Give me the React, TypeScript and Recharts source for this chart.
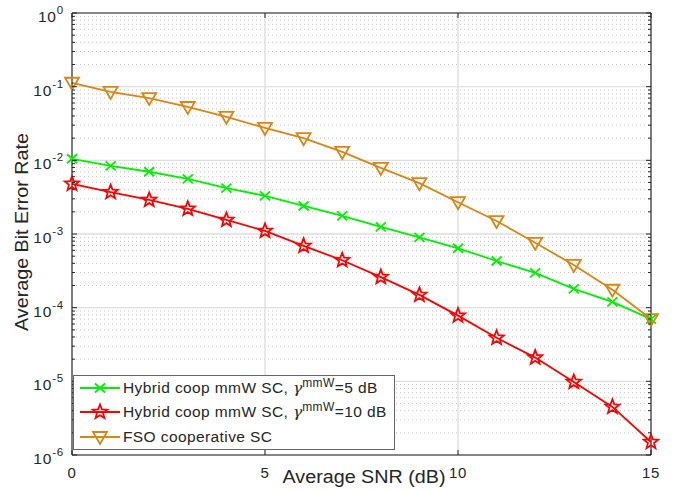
import React from "react";
import {
  LineChart,
  Line,
  XAxis,
  YAxis,
  CartesianGrid,
  Legend,
  ReferenceLine,
} from "recharts";

// average SNR in dB
const snrDb = [0, 1, 2, 3, 4, 5, 6, 7, 8, 9, 10, 11, 12, 13, 14, 15];

// BER
const berHybrid5 = [
  1.05e-2, 8.4e-3, 7.0e-3, 5.6e-3, 4.2e-3, 3.3e-3, 2.4e-3, 1.76e-3, 1.25e-3,
  9.0e-4, 6.4e-4, 4.3e-4, 2.97e-4, 1.8e-4, 1.2e-4, 7.0e-5,
];
const berHybrid10 = [
  4.8e-3, 3.7e-3, 2.9e-3, 2.2e-3, 1.55e-3, 1.1e-3, 6.9e-4, 4.4e-4, 2.6e-4,
  1.49e-4, 7.8e-5, 3.9e-5, 2.1e-5, 9.8e-6, 4.5e-6, 1.5e-6,
];
const berFso = [
  0.113, 0.085, 0.07, 0.053, 0.039, 0.0275, 0.02, 0.013, 7.9e-3, 4.9e-3,
  2.7e-3, 1.5e-3, 7.6e-4, 3.8e-4, 1.75e-4, 7.0e-5,
];

const xTicks = [0, 5, 10, 15];
const xMajorGrid = [5, 10];
const yMajor = [1e-6, 1e-5, 1e-4, 1e-3, 1e-2, 1e-1, 1];
const yMinor = [
  2e-6, 3e-6, 4e-6, 5e-6, 6e-6, 7e-6, 8e-6, 9e-6,
  2e-5, 3e-5, 4e-5, 5e-5, 6e-5, 7e-5, 8e-5, 9e-5,
  2e-4, 3e-4, 4e-4, 5e-4, 6e-4, 7e-4, 8e-4, 9e-4,
  2e-3, 3e-3, 4e-3, 5e-3, 6e-3, 7e-3, 8e-3, 9e-3,
  2e-2, 3e-2, 4e-2, 5e-2, 6e-2, 7e-2, 8e-2, 9e-2,
  0.2, 0.3, 0.4, 0.5, 0.6, 0.7, 0.8, 0.9,
];

const data = snrDb.map((snr, i) => ({
  snr,
  hybrid5: berHybrid5[i],
  hybrid10: berHybrid10[i],
  fso: berFso[i],
}));

const W = 674;
const H = 490;
const PL = 72;
const PT = 13;
const PR = 651;
const PB = 455;

const FONT = "'Liberation Sans', Arial, Helvetica, sans-serif";
const AXIS = "#262626";
const GREEN = "#00f000";
const RED = "#ff0000";
const ORANGE = "#dc8512";

function CrossMark({ cx, cy, color }: any) {
  if (cx == null || cy == null) return null;
  return (
    <path
      d={`M${cx - 5},${cy - 4.5}L${cx + 5},${cy + 4.5}M${cx - 5},${cy + 4.5}L${cx + 5},${cy - 4.5}`}
      stroke={color}
      strokeWidth={1.8}
      fill="none"
    />
  );
}

function StarMark({ cx, cy, color }: any) {
  if (cx == null || cy == null) return null;
  const pts: string[] = [];
  for (let k = 0; k < 10; k++) {
    const r = k % 2 === 0 ? 7.5 : 3.2;
    const a = -Math.PI / 2 + (k * Math.PI) / 5;
    pts.push(`${cx + r * Math.cos(a)},${cy + r * Math.sin(a)}`);
  }
  return (
    <polygon
      points={pts.join(" ")}
      stroke={color}
      strokeWidth={1.8}
      fill="none"
      strokeLinejoin="miter"
    />
  );
}

function TriMark({ cx, cy, color }: any) {
  if (cx == null || cy == null) return null;
  return (
    <path
      d={`M${cx - 7},${cy - 5}L${cx + 7},${cy - 5}L${cx},${cy + 7}Z`}
      stroke={color}
      strokeWidth={1.8}
      fill="none"
    />
  );
}

const series = [
  { key: "hybrid5", color: GREEN, Mark: CrossMark, label: "Hybrid coop mmW SC, ", tail: "=5 dB", gamma: true },
  { key: "hybrid10", color: RED, Mark: StarMark, label: "Hybrid coop mmW SC, ", tail: "=10 dB", gamma: true },
  { key: "fso", color: ORANGE, Mark: TriMark, label: "FSO cooperative SC", tail: "", gamma: false },
];

function XTick({ x, payload }: any) {
  return (
    <g>
      <line x1={x} x2={x} y1={PB} y2={PB - 5} stroke={AXIS} />
      <line x1={x} x2={x} y1={PT} y2={PT + 5} stroke={AXIS} />
      <text
        x={x}
        y={PB + 23}
        textAnchor="middle"
        fontSize={15}
        fontFamily={FONT}
        fill={AXIS}
        letterSpacing={0.6}
      >
        {payload.value}
      </text>
    </g>
  );
}

function YTick({ y, payload }: any) {
  const v = payload.value;
  const major = yMajor.includes(v);
  const len = major ? 5 : 3;
  return (
    <g>
      <line x1={PL} x2={PL + len} y1={y} y2={y} stroke={AXIS} />
      <line x1={PR} x2={PR - len} y1={y} y2={y} stroke={AXIS} />
      {major && (
        <text
          x={64}
          y={y + 9}
          textAnchor="end"
          fontSize={15.5}
          fontFamily={FONT}
          fill={AXIS}
          letterSpacing={0.8}
        >
          10
          <tspan dy={-8} fontSize={11.5}>
            {String(Math.round(Math.log10(v)))}
          </tspan>
        </text>
      )}
    </g>
  );
}

function XTitle() {
  return (
    <text
      x={364}
      y={483}
      textAnchor="middle"
      fontSize={17.5}
      fontFamily={FONT}
      fill={AXIS}
      textLength={163}
      lengthAdjust="spacingAndGlyphs"
    >
      Average SNR (dB)
    </text>
  );
}

function YTitle() {
  return (
    <text
      x={28}
      y={232}
      transform="rotate(-90, 28, 232)"
      textAnchor="middle"
      fontSize={17.5}
      fontFamily={FONT}
      fill={AXIS}
      textLength={198}
      lengthAdjust="spacingAndGlyphs"
    >
      Average Bit Error Rate
    </text>
  );
}

function LegendBox() {
  return (
    <div
      style={{
        boxSizing: "border-box",
        width: 322,
        height: 75,
        border: "1px solid #666",
        background: "#fff",
        fontFamily: FONT,
        fontSize: 15.5,
        letterSpacing: 0.4,
        color: AXIS,
      }}
    >
      {series.map((s) => (
        <div
          key={s.key}
          style={{ height: 24.3, display: "flex", alignItems: "center" }}
        >
          <svg width={49} height={24} style={{ flex: "none" }}>
            <line x1={6} x2={46} y1={12} y2={12} stroke={s.color} strokeWidth={1.8} />
            <s.Mark cx={26} cy={12} color={s.color} />
          </svg>
          <span style={{ whiteSpace: "nowrap", lineHeight: "15px" }}>
            {s.label}
            {s.gamma && (
              <>
                <span style={{ fontFamily: "'DejaVu Serif', 'Liberation Serif', serif", fontStyle: "italic", letterSpacing: 0 }}>
                  γ
                </span>
                <sup style={{ fontSize: 12, verticalAlign: 6, lineHeight: 0 }}>mmW</sup>
              </>
            )}
            {s.tail}
          </span>
        </div>
      ))}
    </div>
  );
}

export default function App() {
  return (
    <div style={{ position: "absolute", left: 0, top: 0, width: W, height: H, background: "#fff" }}>
      <LineChart
        width={W}
        height={H}
        data={data}
        margin={{ top: PT, right: W - PR, bottom: 0, left: 0 }}
      >
        <CartesianGrid
          horizontalValues={yMinor}
          vertical={false}
          stroke="#c4c4c4"
          strokeDasharray="1 3"
        />
        <CartesianGrid
          horizontalValues={yMajor}
          verticalValues={xMajorGrid}
          stroke="#dedede"
          strokeWidth={1.3}
        />
        <XAxis
          dataKey="snr"
          type="number"
          domain={[0, 15]}
          ticks={xTicks}
          interval={0}
          height={H - PB}
          tickSize={0}
          tickMargin={0}
          tickLine={false}
          axisLine={{ stroke: AXIS, strokeWidth: 1.2 }}
          tick={<XTick />}
          label={<XTitle />}
        />
        <YAxis
          scale="log"
          type="number"
          domain={[1e-6, 1]}
          allowDataOverflow
          ticks={[...yMinor, ...yMajor]}
          interval={0}
          width={PL}
          tickSize={0}
          tickMargin={0}
          tickLine={false}
          axisLine={{ stroke: AXIS, strokeWidth: 1.2 }}
          tick={<YTick />}
          label={<YTitle />}
        />
        <ReferenceLine y={1} stroke={AXIS} strokeWidth={1.2} />
        <ReferenceLine x={15} stroke={AXIS} strokeWidth={1.2} />
        {series.map((s) => (
          <Line
            key={s.key}
            dataKey={s.key}
            stroke={s.color}
            strokeWidth={1.8}
            isAnimationActive={false}
            dot={(p: any) => <s.Mark key={`${s.key}-${p.index}`} cx={p.cx} cy={p.cy} color={s.color} />}
            activeDot={false}
          />
        ))}
        <Legend
          layout="vertical"
          align="center"
          verticalAlign="middle"
          wrapperStyle={{ left: 73, top: 375, width: 322, height: 75 }}
          content={() => <LegendBox />}
        />
      </LineChart>
    </div>
  );
}
